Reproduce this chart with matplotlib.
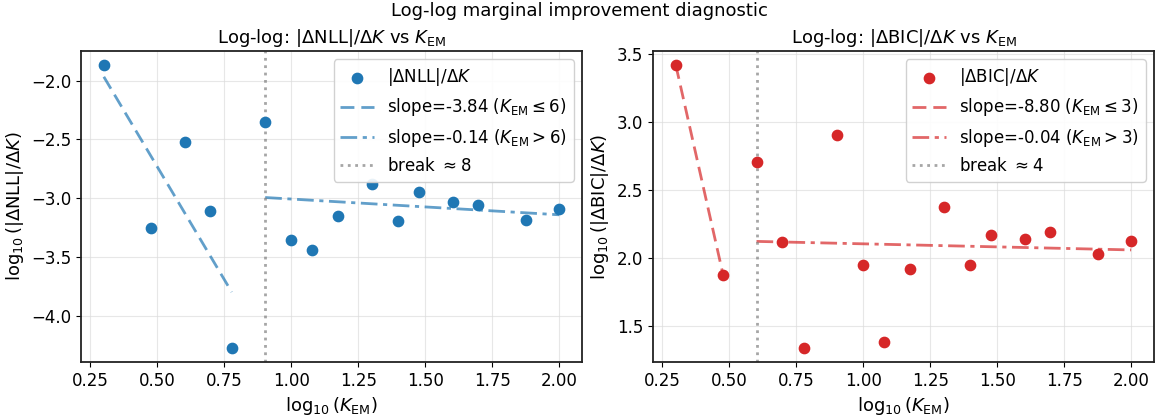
import matplotlib
matplotlib.use("Agg")
import matplotlib.pyplot as plt
import numpy as np

# K_EM grid and the two marginal-improvement series (log10 values)
k_em = np.array([2, 3, 4, 5, 6, 8, 10, 12, 15, 20, 25, 30, 40, 50, 75, 100])
log_dnll = np.array([-1.87, -3.25, -2.52, -3.11, -4.27, -2.35, -3.35, -3.44,
                     -3.15, -2.88, -3.19, -2.95, -3.03, -3.06, -3.18, -3.09])
log_dbic = np.array([3.42, 1.88, 2.71, 2.12, 1.34, 2.91, 1.95, 1.38,
                     1.92, 2.38, 1.95, 2.17, 2.14, 2.19, 2.03, 2.13])

# piecewise fits: K split point, slope labels, break marker
nll_split, nll_break = 6, 8
nll_slopes = ["-3.84", "-0.14"]
bic_split, bic_break = 3, 4
bic_slopes = ["-8.80", "-0.04"]

plt.rcParams.update({
    "font.size": 12,
    "axes.linewidth": 1.3,
    "axes.edgecolor": "#222222",
})

logk = np.log10(k_em)

fig, axes = plt.subplots(1, 2, figsize=(11.58, 4.19), dpi=100)
fig.subplots_adjust(left=0.070, right=0.9965, top=0.878, bottom=0.136, wspace=0.142)


def panel(ax, y, color, name, split, brk, slopes):
    ax.grid(True, color="#dddddd", linewidth=0.8, alpha=0.7)
    ax.set_axisbelow(True)
    ax.scatter(logk, y, s=55, color=color, zorder=3, label=rf"$|\Delta \mathrm{{{name}}}|/\Delta K$")
    lo = k_em <= split
    hi = k_em > split
    for mask, ls, slope, op in [(lo, (0, (5, 2.5)), slopes[0], r"\leq"),
                                (hi, (0, (6, 2, 1.5, 2)), slopes[1], ">")]:
        p = np.polyfit(logk[mask], y[mask], 1)
        xs = logk[mask][[0, -1]]
        ax.plot(xs, np.polyval(p, xs), color=color, alpha=0.7, lw=2, linestyle=ls,
                label=rf"slope={slope} ($K_{{\mathrm{{EM}}}}{op}{split}$)")
    ax.axvline(np.log10(brk), color="gray", alpha=0.7, lw=2, linestyle=":",
               label=rf"break $\approx{brk}$")
    ax.set_title(rf"Log-log: $|\Delta \mathrm{{{name}}}|/\Delta K$ vs $K_{{\mathrm{{EM}}}}$", fontsize=13)
    ax.set_xlabel(r"$\log_{10}(K_{\mathrm{EM}})$", fontsize=13)
    ax.set_ylabel(rf"$\log_{{10}}(|\Delta \mathrm{{{name}}}|/\Delta K)$", fontsize=13)
    ax.set_xticks([0.25, 0.5, 0.75, 1.0, 1.25, 1.5, 1.75, 2.0])
    ax.legend(loc="upper right", fontsize=12, framealpha=0.9)


panel(axes[0], log_dnll, "#1f77b4", "NLL", nll_split, nll_break, nll_slopes)
panel(axes[1], log_dbic, "#d62728", "BIC", bic_split, bic_break, bic_slopes)
axes[0].set_yticks([-4.0, -3.5, -3.0, -2.5, -2.0])
axes[1].set_yticks([1.5, 2.0, 2.5, 3.0, 3.5])

fig.suptitle("Log-log marginal improvement diagnostic", fontsize=13, y=0.995)

fig.savefig("out.png", dpi=100)
